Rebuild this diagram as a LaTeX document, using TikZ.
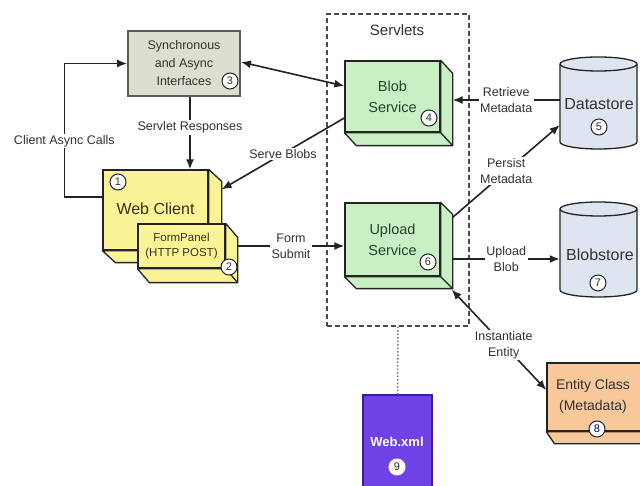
\documentclass[tikz,border=0pt]{standalone}
\usepackage{fontspec}
\setmainfont{Liberation Sans}
\usetikzlibrary{arrows.meta,calc}
\definecolor{linec}{RGB}{35,35,35}
\definecolor{txt}{RGB}{50,50,50}
\definecolor{syncfill}{RGB}{220,223,207}
\definecolor{syncdraw}{RGB}{90,95,85}
\definecolor{greenfill}{RGB}{200,240,196}
\definecolor{greentxt}{RGB}{40,65,40}
\definecolor{yellowfill}{RGB}{250,244,150}
\definecolor{yellowtxt}{RGB}{55,50,20}
\definecolor{cylfill}{RGB}{222,228,240}
\definecolor{orangefill}{RGB}{248,200,155}
\definecolor{purplefill}{RGB}{112,66,230}
\definecolor{purpledraw}{RGB}{60,30,150}
\newcommand\boxside[4]{%
  \filldraw[fill=#4, draw=linec, line width=1.3pt, line join=round]
    (#1.north east) -- ++(#2,#3) -- ($(#1.south east)+(#2,#3)$) -- ($(#1.south west)+(#2,#3)$) -- (#1.south west) -- (#1.south east) -- cycle;
  \draw[linec, line width=1.3pt] (#1.south east) -- ++(#2,#3);
}
\newcommand\cylshape[3]{%
  \filldraw[fill=cylfill, draw=linec, line width=1.3pt]
    (#1-38.5,#2) -- (#1-38.5,#3) arc[start angle=180, end angle=360, x radius=38.5pt, y radius=7pt]
    -- (#1+38.5,#2) arc[start angle=0, end angle=180, x radius=38.5pt, y radius=7pt] -- cycle;
  \draw[linec, line width=1.3pt] (#1-38.5,#2) arc[start angle=180, end angle=360, x radius=38.5pt, y radius=7pt];
}
\begin{document}
\begin{tikzpicture}[x=1pt,y=-1pt,
  face/.style={draw=linec, line width=1.3pt, inner sep=0pt, align=center},
  lab/.style={fill=white, inner sep=1.5pt, font=\fontsize{12.5}{16}\selectfont, text=txt, align=center},
  num/.style={circle, draw=linec, fill=white, line width=1pt, minimum size=16pt, inner sep=0pt, text=txt, font=\fontsize{11}{12}\selectfont},
  arr/.style={draw=linec, line width=1.6pt, -{Latex[length=10pt,width=8pt]}},
  biarr/.style={draw=linec, line width=1.6pt, {Latex[length=10pt,width=8pt]}-{Latex[length=10pt,width=8pt]}},
]
\useasboundingbox (0,0) rectangle (640,486);
\fill[white] (0,0) rectangle (640,486);

% Servlets group
\node[draw=black!70, dashed, dash pattern=on 5pt off 3pt, line width=1.3pt, minimum width=142pt, minimum height=312pt, inner sep=0pt] (sv) at (398,170) {};
\node[text=txt, font=\fontsize{15}{18}\selectfont] (svt) at (397,30) {Servlets};

% Synchronous and Async Interfaces
\node[face, draw=syncdraw, line width=1.8pt, fill=syncfill, minimum width=112pt, minimum height=65pt, text=txt, font=\fontsize{12.5}{18}\selectfont] (sync) at (184,63.5) {Synchronous\\and Async\\Interfaces\hspace{12pt}};
\node[num] (n3) at (230,81) {3};

% Blob Service
\node[face, fill=greenfill, minimum width=95pt, minimum height=71pt, text=greentxt, font=\fontsize{14.5}{21}\selectfont] (blob) at (392.5,96.5) {Blob\\Service};
\boxside{blob}{12}{13}{greenfill}
\node[num] (n4) at (429,118) {4};

% Upload Service
\node[face, fill=greenfill, minimum width=95pt, minimum height=73pt, text=greentxt, font=\fontsize{14.5}{21}\selectfont] (up) at (392.5,239.5) {Upload\\Service};
\boxside{up}{12}{12}{greenfill}
\node[num] (n6) at (428,262) {6};

% Web Client
\node[face, fill=yellowfill, minimum width=105pt, minimum height=80pt, text=yellowtxt, font=\fontsize{16}{19}\selectfont] (wc) at (155.5,210) {\raisebox{2pt}{Web Client}};
\boxside{wc}{13}{12}{yellowfill}
\node[num] (n1) at (118,182) {1};

% FormPanel
\node[face, fill=yellowfill, minimum width=87pt, minimum height=44pt, text=yellowtxt, font=\fontsize{11.5}{15}\selectfont] (fp) at (181.5,246) {FormPanel\\(HTTP POST)};
\boxside{fp}{12}{14}{yellowfill}
\node[num] (n2) at (229,267) {2};

% Datastore
\cylshape{598.5}{64}{142}
\node[inner sep=0pt, minimum width=77pt, minimum height=92pt] (ds) at (598.5,104) {};
\node[text=txt, font=\fontsize{16}{19}\selectfont] (dst) at (599,104) {Datastore};
\node[num] (n5) at (599,127) {5};

% Blobstore
\cylshape{598.5}{209}{290}
\node[inner sep=0pt, minimum width=77pt, minimum height=94pt] (bs) at (598.5,253) {};
\node[text=txt, font=\fontsize{16}{19}\selectfont] (bst) at (600,255) {Blobstore};
\node[num] (n7) at (598,283) {7};

% Entity Class
\node[face, fill=orangefill, minimum width=100pt, minimum height=68pt] (ent) at (597,397) {};
\boxside{ent}{8}{12}{orangefill}
\node[text=txt, align=center, font=\fontsize{14}{21}\selectfont] (entt) at (593,396) {Entity Class\\(Metadata)};
\node[num, text=blue!50!black] (n8) at (597,429) {8};

% Web.xml
\node[face, draw=purpledraw, fill=purplefill, minimum width=69pt, minimum height=97pt] (wx) at (397.5,443.5) {};
\node[text=white, font=\bfseries\fontsize{13}{16}\selectfont] (wxt) at (397,442) {Web.xml};
\node[num, draw=white, text=black!85] (n9) at (397,467) {9};

% Connectors
\draw[arr] ([yshift=13pt]wc.west) -- ++(-38,0) |- node[lab, pos=0.21] {Client Async Calls} (sync.west);
\coordinate (srA) at ([xshift=6pt]sync.south);
\draw[arr] (srA) -- node[lab, pos=0.42] {Servlet Responses} (srA |- wc.north);
\draw[biarr] ([yshift=10.5pt]blob.west) -- ([yshift=1.5pt]sync.east);
\draw[arr] ([yshift=-21.5pt]blob.west) -- node[lab] {Serve Blobs} ([xshift=13pt,yshift=-20pt]wc.north east);
\draw[arr] ([xshift=12pt]fp.east) -- node[lab] {Form\\Submit} (fp.east -| up.west);
\draw[arr] ([yshift=4pt]ds.west) -- node[lab] {Retrieve\\Metadata} ([xshift=12pt,yshift=-3.5pt]blob.east);
\draw[arr] ([xshift=12pt,yshift=-15pt]up.north east) -- node[lab] {Persist\\Metadata} ([yshift=-21pt]ds.west);
\draw[arr] ([xshift=12pt,yshift=-19.5pt]up.east) -- node[lab] {Upload\\Blob} ([yshift=-6pt]bs.west);
\draw[biarr] ([yshift=7pt]ent.west) -- node[lab, pos=0.45] {Instantiate\\Entity} ([xshift=11pt,yshift=-13pt]up.south east);
\draw[black!55, dotted, line width=1.5pt] (sv.south) -- (wx.north);
\end{tikzpicture}
\end{document}
